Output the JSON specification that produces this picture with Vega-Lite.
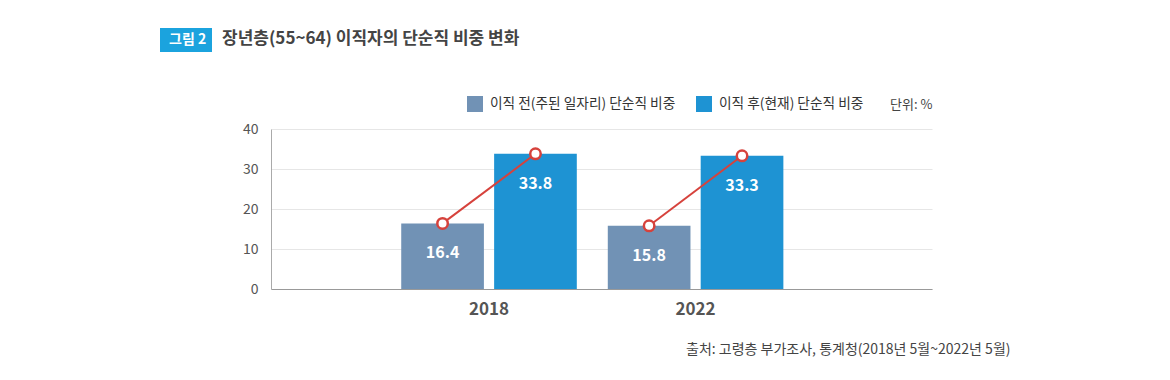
{
  "$schema": "https://vega.github.io/schema/vega-lite/v6.json",
  "width": 661,
  "height": 160,
  "autosize": {"type": "none"},
  "padding": {"left": 271, "top": 129, "right": 238, "bottom": 91},
  "background": "white",
  "config": {
    "font": "Noto Sans CJK KR",
    "view": {"stroke": null}
  },
  "title": {
    "text": "장년층(55~64) 이직자의 단순직 비중 변화",
    "anchor": "start",
    "frame": "group",
    "fontSize": 17,
    "fontWeight": "bold",
    "color": "#444444",
    "dx": -49,
    "offset": -20
  },
  "data": {
    "values": [
      {"year": "2018", "series": "이직 전(주된 일자리) 단순직 비중", "value": 16.4},
      {"year": "2018", "series": "이직 후(현재) 단순직 비중", "value": 33.8},
      {"year": "2022", "series": "이직 전(주된 일자리) 단순직 비중", "value": 15.8},
      {"year": "2022", "series": "이직 후(현재) 단순직 비중", "value": 33.3}
    ]
  },
  "encoding": {
    "x": {
      "field": "year",
      "type": "nominal",
      "scale": {"paddingInner": 0.15, "paddingOuter": 0.675, "align": 0.467},
      "axis": {
        "labelAngle": 0,
        "labelFontSize": 17,
        "labelFontWeight": "bold",
        "labelColor": "#555555",
        "labelPadding": 12,
        "ticks": false,
        "domainColor": "#999999",
        "grid": false,
        "title": "출처: 고령층 부가조사, 통계청(2018년 5월~2022년 5월)",
        "titleFontSize": 14,
        "titleFontWeight": "normal",
        "titleColor": "#444444",
        "titleX": 739,
        "titleY": 60,
        "titleAlign": "right",
        "titleAnchor": null,
        "titleBaseline": "middle"
      }
    },
    "xOffset": {
      "field": "series",
      "type": "nominal",
      "sort": ["이직 전(주된 일자리) 단순직 비중", "이직 후(현재) 단순직 비중"],
      "scale": {"paddingInner": 0.11, "paddingOuter": 0}
    },
    "y": {
      "field": "value",
      "type": "quantitative",
      "scale": {"domain": [0, 40], "nice": false},
      "axis": {
        "values": [0, 10, 20, 30, 40],
        "labelFontSize": 14,
        "labelColor": "#555555",
        "labelPadding": 13,
        "ticks": false,
        "domainColor": "#aaaaaa",
        "gridColor": "#e6e6e6",
        "title": "단위: %",
        "titleAngle": 0,
        "titleX": 661,
        "titleY": -25,
        "titleAlign": "right",
        "titleBaseline": "middle",
        "titleFontSize": 13,
        "titleFontWeight": "normal",
        "titleColor": "#444444"
      }
    }
  },
  "layer": [
    {
      "mark": {"type": "bar"},
      "encoding": {
        "color": {
          "field": "series",
          "type": "nominal",
          "sort": ["이직 전(주된 일자리) 단순직 비중", "이직 후(현재) 단순직 비중"],
          "scale": {"range": ["#7192b5", "#1e93d3"]},
          "legend": {
            "orient": "none",
            "legendX": 196,
            "legendY": -33,
            "direction": "horizontal",
            "title": null,
            "symbolType": "square",
            "symbolSize": 256,
            "symbolStrokeWidth": 0,
            "labelFontSize": 13.7,
            "labelColor": "#333333",
            "labelOffset": 7,
            "columnPadding": 20,
            "labelLimit": 400
          }
        }
      }
    },
    {
      "mark": {"type": "line", "color": "#d6423c", "strokeWidth": 2},
      "encoding": {
        "detail": {"field": "year"}
      }
    },
    {
      "mark": {"type": "point", "filled": false, "fill": "white", "fillOpacity": 1, "stroke": "#d6423c", "strokeWidth": 2.5, "size": 110, "opacity": 1},
      "encoding": {
        "shape": {
          "datum": "그림 2",
          "scale": {"range": ["circle"]},
          "legend": {
            "orient": "none",
            "legendX": -111,
            "legendY": -101,
            "title": null,
            "fillColor": "#1ba3de",
            "padding": 5,
            "symbolSize": 0,
            "symbolOpacity": 0,
            "symbolStrokeWidth": 0,
            "labelOffset": -10,
            "labelFontSize": 14,
            "labelFontWeight": "bold",
            "labelColor": "white"
          }
        }
      }
    },
    {
      "mark": {"type": "text", "color": "white", "fontSize": 16, "fontWeight": "bold", "dy": 30, "baseline": "middle"},
      "encoding": {
        "text": {"field": "value", "type": "quantitative", "format": ".1f"}
      }
    }
  ]
}
